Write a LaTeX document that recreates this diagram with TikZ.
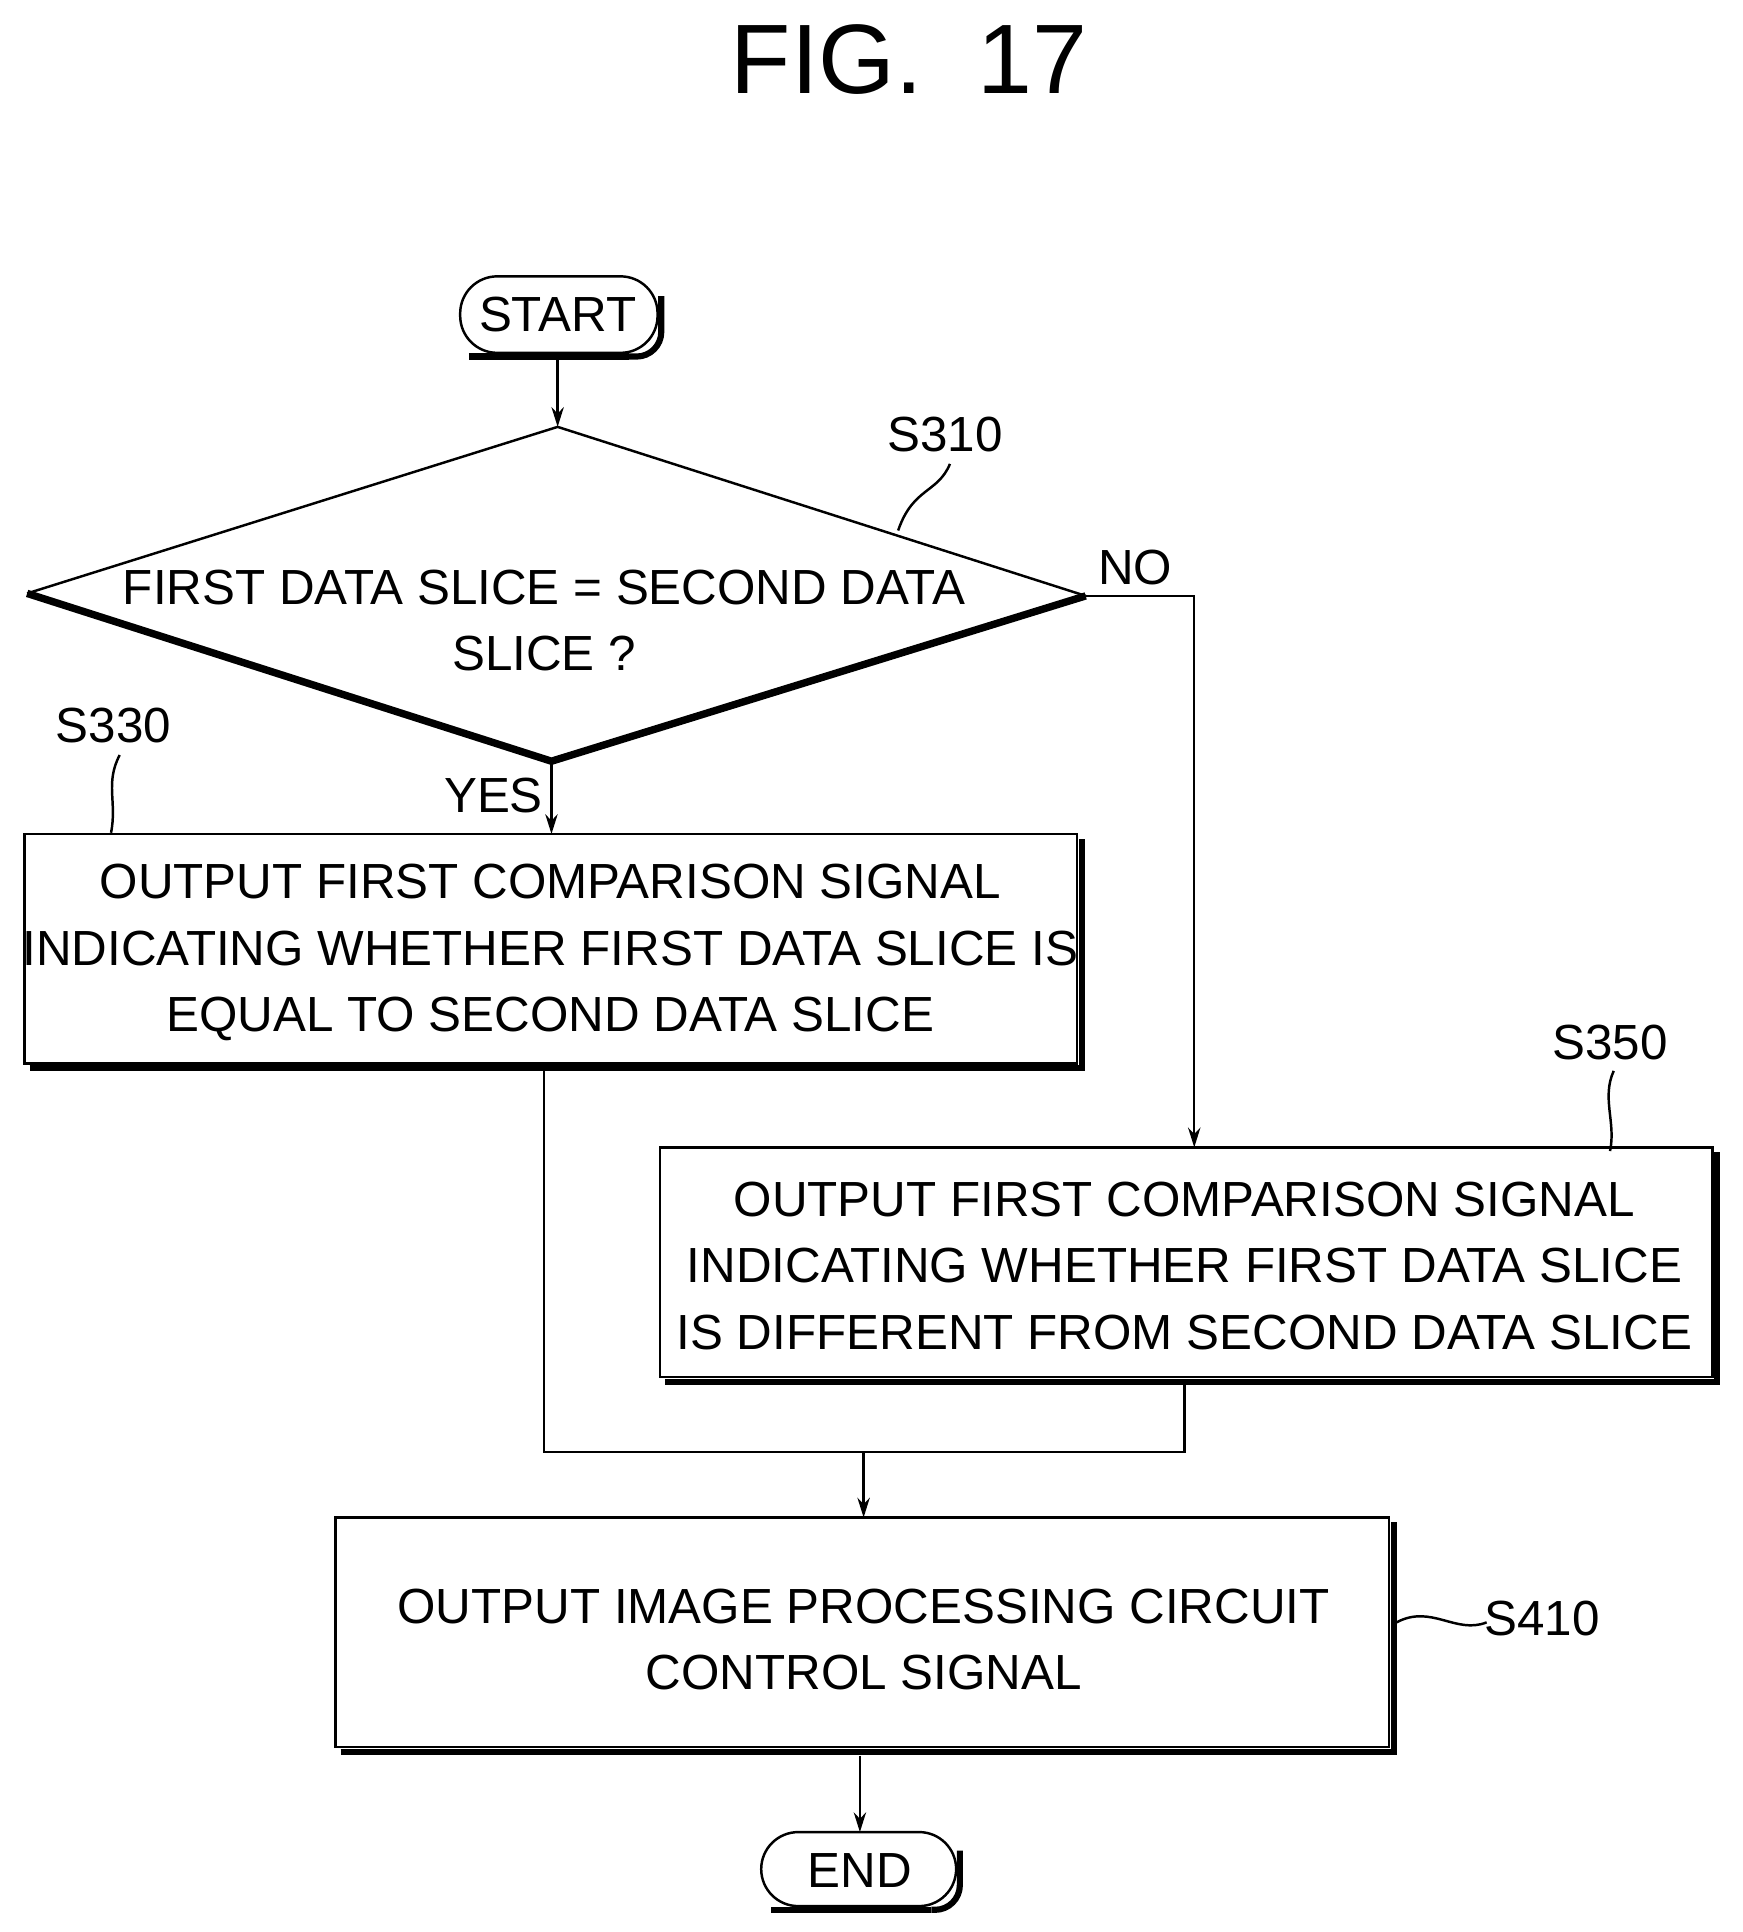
\documentclass[tikz,border=0pt]{standalone}
\usepackage{fontspec}
\setmainfont{Liberation Sans}
\usetikzlibrary{arrows.meta}
\begin{document}
\begin{tikzpicture}[x=1pt,y=-1pt,
  ln/.style={line width=2pt},
  sh/.style={line width=5pt},
  arr/.style={ln,-{Stealth[length=16pt,width=10pt]}},
  txt/.style={font=\fontsize{40}{54}\selectfont,align=center,inner sep=0},
  lab/.style={font=\fontsize{40}{48}\selectfont,inner sep=0}]
\useasboundingbox (0,0) rectangle (1412,1566);
\node[font=\fontsize{80}{90}\selectfont] (title) at (737,48) {FIG.\ \ 17};
% START
\draw[ln,rounded corners=30pt] (373,224) rectangle (533,286);
\draw[sh] (380,289) -- (510,289);
\draw[sh,rounded corners=20pt] (510,289) -- (536,289) -- (536,240);
\node[txt] (start) at (452,255) {START};
% decision
\coordinate (dt) at (452,346); \coordinate (dl) at (22,481);
\coordinate (dr) at (880,483); \coordinate (db) at (447,617);
\draw[ln] (dl) -- (dt) -- (dr);
\draw[line width=6pt] (dl) -- (db) -- (dr);
\node[txt] (dec) at (441,503) {FIRST DATA SLICE = SECOND DATA\\SLICE ?};
\draw[arr] (452,290) -- (dt);
\node[lab] (s310) at (766,352) {S310};
\draw[ln] (770,376) .. controls (760,400) and (740,395) .. (728,430);
% box1
\draw[ln] (20,676) rectangle (873,862);
\draw[sh] (24,866) -- (877,866) -- (877,680);
\node[txt] (b1) at (446,772) {OUTPUT FIRST COMPARISON SIGNAL\\INDICATING WHETHER FIRST DATA SLICE IS\\EQUAL TO SECOND DATA SLICE};
\node[lab] (yes) at (400,645) {YES};
\draw[arr] (db) -- (447,676);
\node[lab] (s330) at (92,588) {S330};
\draw[ln] (97,612) .. controls (85,635) and (95,650) .. (90,675);
% box2
\draw[ln] (535,930) rectangle (1388,1116);
\draw[sh] (539,1120) -- (1392,1120) -- (1392,934);
\node[txt] (b2) at (960,1026) {OUTPUT FIRST COMPARISON SIGNAL\\INDICATING WHETHER FIRST DATA SLICE\\IS DIFFERENT FROM SECOND DATA SLICE};
\node[lab] (no) at (920,460) {NO};
\draw[ln] (dr) -- (968,483) -- (968,900);
\draw[arr] (968,895) -- (968,930);
\node[lab] (s350) at (1305,845) {S350};
\draw[ln] (1308,868) .. controls (1298,890) and (1310,910) .. (1305,933);
% merge
\draw[ln] (441,868) -- (441,1177) -- (960,1177) -- (960,1122);
\draw[arr] (700,1177) -- (700,1230);
% box3
\draw[ln] (272,1230) rectangle (1126,1416);
\draw[sh] (276,1420) -- (1130,1420) -- (1130,1234);
\node[txt] (b3) at (700,1329) {OUTPUT IMAGE PROCESSING CIRCUIT\\CONTROL SIGNAL};
\node[lab] (s410) at (1250,1312) {S410};
\draw[ln] (1132,1315) .. controls (1160,1300) and (1180,1325) .. (1205,1315);
\draw[arr] (697,1423) -- (697,1485);
% END
\draw[ln,rounded corners=30pt] (617,1485) rectangle (775,1545);
\draw[sh] (625,1548) -- (755,1548);
\draw[sh,rounded corners=20pt] (755,1548) -- (778,1548) -- (778,1500);
\node[txt] (end) at (697,1516) {END};
\end{tikzpicture}
\end{document}
